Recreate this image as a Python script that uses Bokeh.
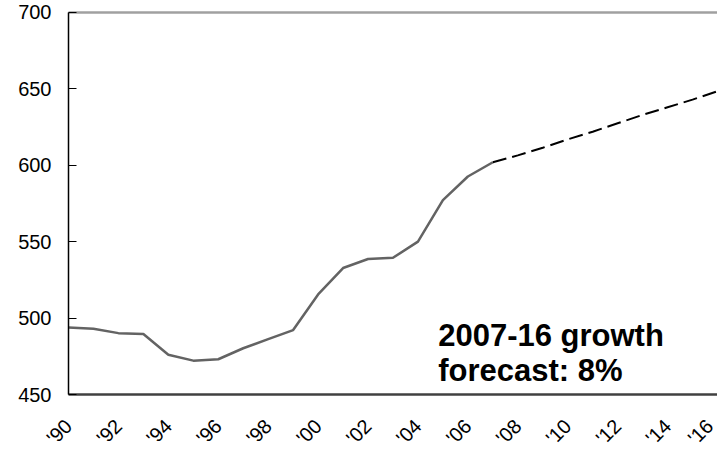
import math
from bokeh.plotting import figure
from bokeh.models import FixedTicker, Range1d, Label, LinearAxis
from bokeh.embed import file_html
from bokeh.resources import INLINE

# Actual series (1990-2007)
years = [1990, 1991, 1992, 1993, 1994, 1995, 1996, 1997, 1998, 1999,
         2000, 2001, 2002, 2003, 2004, 2005, 2006, 2007]
values = [493.9, 493.0, 490.2, 489.6, 476.1, 472.2, 473.1, 480.3, 486.3, 492.2,
          515.5, 532.8, 538.7, 539.5, 550.1, 577.2, 592.7, 602.0]

# Forecast series (2007-2016)
forecast_years = [2007, 2008, 2009, 2010, 2011, 2012, 2013, 2014, 2015, 2016]
forecast_values = [602.0, 606.5, 611.5, 617.0, 622.0, 627.5, 633.0, 638.0, 643.0, 648.5]

tick_years = [1990, 1992, 1994, 1996, 1998, 2000, 2002, 2004, 2006, 2008,
              2010, 2012, 2014, 2016]
tick_labels = ["'90", "'92", "'94", "'96", "'98", "'00", "'02", "'04", "'06", "'08",
               "'10", "'12", "'14", "'16"]
y_ticks = [450, 500, 550, 600, 650, 700]

annotation_lines = ["2007-16 growth", "forecast: 8%"]

FONT = "Liberation Sans"
X_MIN, X_MAX = 1990, 2016
Y_MIN, Y_MAX = 450, 700
# the frame fills the whole figure; the axes are fixed at X_MIN / Y_MIN so
# their labels have room inside the frame
X_VIEW_MIN = 1987.276
Y_VIEW_MIN, Y_VIEW_MAX = 413.4, 707.85

p = figure(width=717, height=450, output_backend="svg", toolbar_location=None,
           x_range=Range1d(X_VIEW_MIN, X_MAX), y_range=Range1d(Y_VIEW_MIN, Y_VIEW_MAX),
           min_border_left=0, min_border_right=0, min_border_top=0,
           min_border_bottom=0)
p.outline_line_color = None
p.grid.grid_line_color = None
p.background_fill_color = "white"
p.border_fill_color = "white"

# Y axis, placed at X_MIN
p.yaxis.fixed_location = X_MIN
p.yaxis.ticker = FixedTicker(ticks=y_ticks)
p.yaxis.bounds = (Y_MIN, Y_MAX)
p.yaxis.minor_tick_line_color = None
p.yaxis.major_tick_in = 8
p.yaxis.major_tick_out = 0
p.yaxis.major_tick_line_color = "black"
p.yaxis.axis_line_color = "black"
p.yaxis.axis_line_width = 1.5
p.yaxis.major_label_text_font = FONT
p.yaxis.major_label_text_font_size = "20px"
p.yaxis.major_label_text_color = "black"
p.yaxis.major_label_standoff = 17

# X axis, placed at Y_MIN
p.xaxis.fixed_location = Y_MIN
p.xaxis.ticker = FixedTicker(ticks=tick_years)
p.xaxis.bounds = (X_MIN, X_MAX)
p.xaxis.major_label_overrides = {y: l for y, l in zip(tick_years, tick_labels)}
p.xaxis.minor_tick_line_color = None
p.xaxis.major_tick_line_color = None
p.xaxis.major_tick_in = 0
p.xaxis.major_tick_out = 0
p.xaxis.axis_line_color = "#404040"
p.xaxis.axis_line_width = 2.5
p.xaxis.major_label_orientation = math.pi / 4
p.xaxis.major_label_text_font = FONT
p.xaxis.major_label_text_font_size = "20px"
p.xaxis.major_label_text_color = "black"
p.xaxis.major_label_standoff = 28

# top border line as a bare axis fixed at Y_MAX
top_axis = LinearAxis(fixed_location=Y_MAX, bounds=(X_MIN, X_MAX),
                      ticker=FixedTicker(ticks=[]),
                      axis_line_color="#a0a0a0", axis_line_width=2.5,
                      major_tick_in=0, major_tick_out=0,
                      major_tick_line_color=None, minor_tick_line_color=None)
p.add_layout(top_axis, "above")

p.line(years, values, line_color="#636363", line_width=2.5)
p.line(forecast_years, forecast_values, line_color="black", line_width=2, line_dash="14 6")

p.add_layout(Label(x=2004.81, y=488.6, text=annotation_lines[0], text_font=FONT,
                   text_font_size="31px", text_font_style="bold", text_color="black",
                   text_baseline="alphabetic"))
p.add_layout(Label(x=2004.81, y=465.9, text=annotation_lines[1], text_font=FONT,
                   text_font_size="31px", text_font_style="bold", text_color="black",
                   text_baseline="alphabetic"))

open("out.html", "w").write(file_html(p, INLINE))
